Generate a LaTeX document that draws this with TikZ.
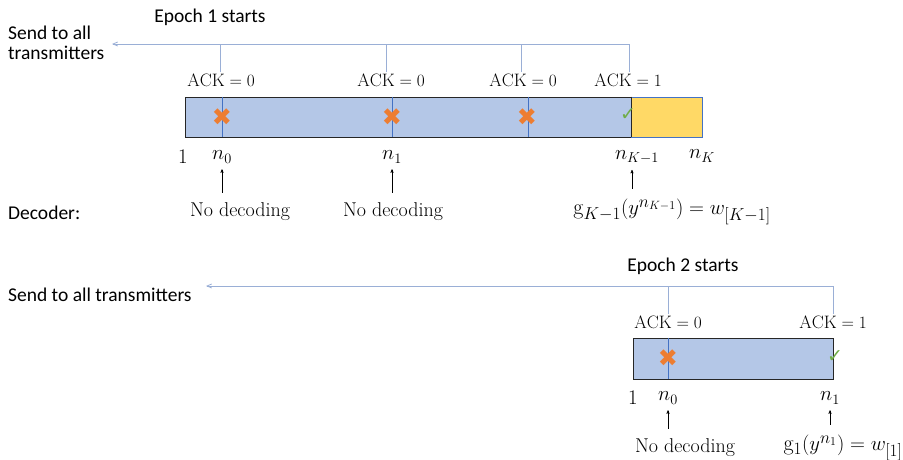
\documentclass[tikz,border=0pt]{standalone}
\usepackage{fontspec}
\setsansfont{Carlito}
\newfontfamily\symfont{DejaVu Sans}
\DeclareMathSizes{22}{22}{16}{12.5}
\DeclareMathSizes{20}{20}{14.6}{12}
\DeclareMathSizes{18}{18}{13}{10}
\usetikzlibrary{arrows,positioning}
\definecolor{slotblue}{HTML}{B4C7E7}
\definecolor{slotyellow}{HTML}{FFD966}
\definecolor{fbblue}{HTML}{9AAFD6}
\definecolor{lineblue}{HTML}{4472C4}
\definecolor{xorange}{HTML}{ED7D31}
\definecolor{okgreen}{HTML}{70AD47}
\tikzset{
    %Define standard arrow tip
    >=stealth',
    %Define style for the blocks
    block/.style={
           rectangle,
           draw=black!85, thick,
           fill=slotblue,
           inner sep=0pt},
    tail/.style={
           rectangle,
           draw=lineblue, thick,
           fill=slotyellow,
           inner sep=0pt},
    % Define text styles
    txt/.style={
           font=\sffamily\fontsize{19.5}{20}\selectfont,
           inner sep=0pt},
    ack/.style={
           font=\fontsize{18}{20}\selectfont,
           inner sep=1pt},
    mth/.style={
           font=\fontsize{20}{22}\selectfont,
           inner sep=1pt},
    rule/.style={
           font=\fontsize{22}{24}\selectfont,
           inner sep=1pt},
    xmark/.style={
           text=xorange,
           font=\symfont\fontsize{24}{24}\selectfont,
           inner sep=0pt},
    okmark/.style={
           text=okgreen,
           font=\symfont\fontsize{19}{19}\selectfont,
           inner sep=0pt},
    % Define line styles
    feedback/.style={
           draw=fbblue,
           thick,
           -angle 45},
    fbtick/.style={
           draw=fbblue,
           thick},
    slotline/.style={
           draw=lineblue},
    imply/.style={
           ->,
           thin,
           shorten <=9pt,
           shorten >=5pt}
}

\begin{document}
\begin{tikzpicture}[x=1pt, y=-1pt, node distance=1cm]
 \useasboundingbox (0,0) rectangle (903,460);
 %epoch 1
    \node[txt] (ep1) at (210,17) {Epoch 1 starts};
    \node[txt, align=left, anchor=west] (send1) at (8,43) {Send to all\\transmitters};
    \coordinate (tip1) at (112,44);
    \node[ack] (ack10) at (221,80) {$\mathrm{ACK}=0$};
    \node[ack] (ack11) at (391,80) {$\mathrm{ACK}=0$};
    \node[ack] (ack12) at (523,80) {$\mathrm{ACK}=0$};
    \node[ack] (ack13) at (628,80) {$\mathrm{ACK}=1$};
    \node[block, minimum width=446, minimum height=40] (blk1) at (408,117) {};
    \node[tail, minimum width=71, minimum height=40, right=0pt of blk1] (ylw1) {};
    \draw[black!85, thick] (blk1.north east) -- (blk1.south east);
    \coordinate (cut10) at (222,117);
    \coordinate (cut11) at (392,117);
    \coordinate (cut12) at (528,117);
    \foreach \c in {cut10,cut11,cut12}
        \draw[slotline] (\c |- blk1.north) -- (\c |- blk1.south);
    \node[xmark] (x10) at (cut10) {✖};
    \node[xmark] (x11) at (cut11) {✖};
    \node[xmark] (x12) at ([xshift=-1pt]cut12) {✖};
    \node[okmark] (ok1) at (628,115) {✓};
    \node[mth] (one1) at (183,157) {$1$};
    \node[mth] (n10) at (222,157) {$n_0$};
    \node[mth] (n11) at (392,157) {$n_1$};
    \node[mth] (n12) at (637,157) {$n_{K-1}$};
    \node[mth] (n13) at (702,156) {$n_K$};
    \node[txt, anchor=west] (decoder) at (8,213) {Decoder:};
    \node[mth] (dec10) at (240,212) {No decoding};
    \node[mth] (dec11) at (393,212) {No decoding};
    \node[rule] (dec12) at (672,212) {$\mathrm{g}_{K-1}(y^{n_{K-1}})=w_{[K-1]}$};
 %feedback 1
    \draw[feedback] ([xshift=1pt]ack13.north) |- (tip1);
    \draw[fbtick] ([xshift=-1pt]ack10.north) -- ([xshift=-1pt]ack10.north |- tip1);
    \draw[fbtick] ([xshift=-5pt]ack11.north) -- ([xshift=-5pt]ack11.north |- tip1);
    \draw[fbtick] ([xshift=-2pt]ack12.north) -- ([xshift=-2pt]ack12.north |- tip1);
 %decoder arrows 1
    \draw[imply] (dec10.north -| n10) -- (n10.south);
    \draw[imply] (dec11.north -| n11) -- (n11.south);
    \draw[imply] ([xshift=-5pt]dec12.north -| n12) -- ([xshift=-5pt]n12.south);
 %epoch 2
    \node[txt] (ep2) at (683,266) {Epoch 2 starts};
    \node[txt, anchor=west] (send2) at (8,295) {Send to all transmitters};
    \coordinate (tip2) at (206,286);
    \node[ack] (ack20) at (668,322) {$\mathrm{ACK}=0$};
    \node[ack] (ack21) at (833,322) {$\mathrm{ACK}=1$};
    \node[block, minimum width=200, minimum height=41] (blk2) at (733,358.5) {};
    \coordinate (cut20) at (668,358);
    \draw[slotline] (cut20 |- blk2.north) -- (cut20 |- blk2.south);
    \node[xmark] (x20) at (cut20) {✖};
    \node[okmark] (ok2) at (835,357) {✓};
    \node[mth] (one2) at (633,398) {$1$};
    \node[mth] (n20) at (668,398) {$n_0$};
    \node[mth] (n21) at (830,398) {$n_1$};
    \node[mth] (dec20) at (685,448) {No decoding};
    \node[rule] (dec21) at (843,448) {$\mathrm{g}_1(y^{n_1})=w_{[1]}$};
 %feedback 2
    \draw[feedback] (ack21.north) |- (tip2);
    \draw[fbtick] (ack20.north) -- (ack20.north |- tip2);
 %decoder arrows 2
    \draw[imply] (dec20.north -| n20) -- (n20.south);
    \draw[imply] (dec21.north -| n21) -- (n21.south);
\end{tikzpicture}
\end{document}
